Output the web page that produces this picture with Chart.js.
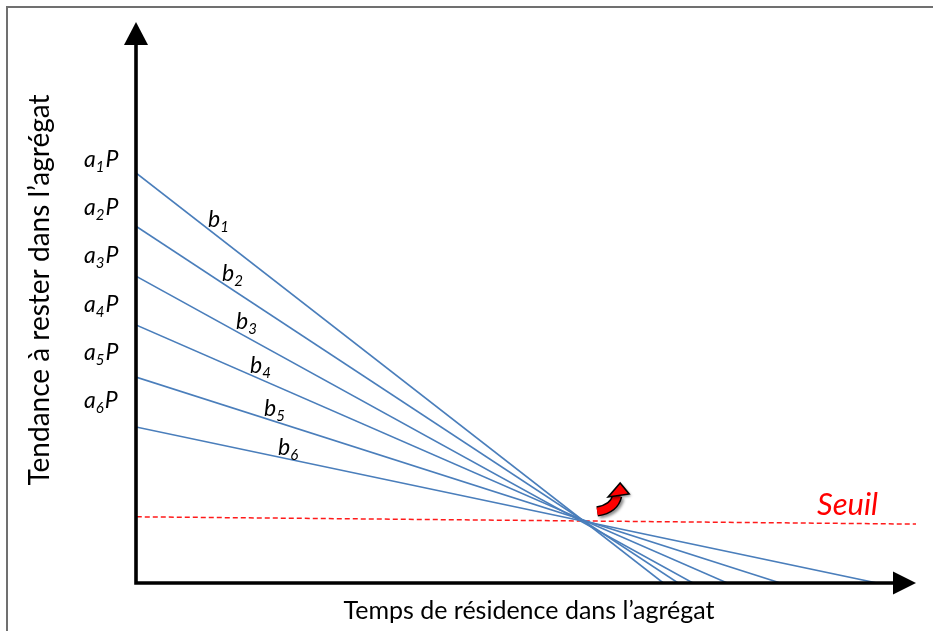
<!DOCTYPE html>
<html lang="fr">
<head>
    <meta charset="UTF-8">
    <title>Tendance à rester dans l'agrégat</title>
    <script src="https://cdn.jsdelivr.net/npm/chart.js"></script>
    <style>
        body { margin: 0; background: #fff; }
        #wrap { width: 933px; height: 631px; position: relative; }
    </style>
</head>
<body>
<div id="wrap"><canvas id="chart"></canvas></div>
<script>
    // y-intercepts (a_i P) and x-intercepts of the six lines, arbitrary units 0..10
    const lineNames = ['b1', 'b2', 'b3', 'b4', 'b5', 'b6'];
    const startValues = [7.31, 6.36, 5.47, 4.60, 3.67, 2.78];
    const endValues = [6.76, 6.95, 7.14, 7.58, 8.26, 9.50];
    const seuilX = [0.01, 10.0];
    const seuilY = [1.18, 1.05];
    const crossPoint = [5.72, 1.16];

    const FONT = 'Lato, "Open Sans", sans-serif';
    const BLUE = '#4a7ebb';

    const datasets = lineNames.map((n, i) => ({
        label: n,
        data: [{x: 0, y: startValues[i]}, {x: endValues[i], y: 0}],
        borderColor: BLUE,
        borderWidth: 1.6,
        pointRadius: 0
    }));
    datasets.push({
        label: 'Seuil',
        data: seuilX.map((x, i) => ({x: x, y: seuilY[i]})),
        borderColor: '#ff1a1a',
        borderWidth: 1.5,
        borderDash: [5, 3],
        pointRadius: 0,
        clip: false
    });

    function subText(ctx, base, sub, tail, x, y, size) {
        ctx.font = 'italic ' + size + 'px ' + FONT;
        ctx.fillText(base, x, y);
        x += ctx.measureText(base).width;
        ctx.font = 'italic ' + Math.round(size * 0.65) + 'px ' + FONT;
        ctx.fillText(sub, x, y + size * 0.22);
        x += ctx.measureText(sub).width + 1;
        if (tail) {
            ctx.font = 'italic ' + size + 'px ' + FONT;
            ctx.fillText(tail, x, y);
        }
    }

    const decor = {
        id: 'decor',
        beforeDraw(chart) {
            const ctx = chart.ctx;
            ctx.save();
            ctx.strokeStyle = '#707070';
            ctx.lineWidth = 2;
            ctx.beginPath();
            ctx.moveTo(7, 631);
            ctx.lineTo(7, 7);
            ctx.lineTo(933, 7);
            ctx.stroke();
            ctx.restore();
        },
        afterDatasetsDraw(chart) {
            const ctx = chart.ctx;
            const xs = chart.scales.x, ys = chart.scales.y;
            const x0 = xs.getPixelForValue(0), y0 = ys.getPixelForValue(0);
            const xMax = xs.right, yMax = ys.top;
            ctx.save();

            // axes with arrow heads
            ctx.strokeStyle = '#000';
            ctx.fillStyle = '#000';
            ctx.lineWidth = 3.6;
            ctx.beginPath();
            ctx.moveTo(x0, y0 + 1.8);
            ctx.lineTo(x0, yMax + 20);
            ctx.moveTo(x0 - 1.8, y0);
            ctx.lineTo(xMax - 20, y0);
            ctx.stroke();
            ctx.beginPath();
            ctx.moveTo(x0, yMax);
            ctx.lineTo(x0 - 12, yMax + 23);
            ctx.lineTo(x0 + 12, yMax + 23);
            ctx.closePath();
            ctx.fill();
            ctx.beginPath();
            ctx.moveTo(xMax, y0);
            ctx.lineTo(xMax - 23, y0 - 11.5);
            ctx.lineTo(xMax - 23, y0 + 11.5);
            ctx.closePath();
            ctx.fill();

            // a_i P labels
            ctx.fillStyle = '#000';
            ctx.textBaseline = 'alphabetic';
            ctx.textAlign = 'left';
            startValues.forEach((v, i) => {
                subText(ctx, 'a', String(i + 1), 'P', 84, 167 + i * 48.2, 23);
            });

            // b_i labels, sitting on their lines
            lineNames.forEach((n, i) => {
                const px = 208 + 14 * i;
                const xv = xs.getValueForPixel(px + 6);
                const yv = startValues[i] * (1 - xv / endValues[i]);
                const py = ys.getPixelForValue(yv) - (7 - i * 0.8);
                subText(ctx, 'b', String(i + 1), '', px, py, 23);
            });

            // Seuil label
            ctx.fillStyle = '#ff0000';
            ctx.font = 'italic 31px ' + FONT;
            ctx.fillText('Seuil', 817, 515);

            // curved red arrow near the crossing point
            const cx = xs.getPixelForValue(crossPoint[0]);
            const cy = ys.getPixelForValue(crossPoint[1]);
            ctx.save();
            ctx.translate(cx, cy);
            ctx.shadowColor = 'rgba(0,0,0,0.45)';
            ctx.shadowBlur = 3;
            ctx.shadowOffsetX = 2;
            ctx.shadowOffsetY = 2;
            ctx.lineCap = 'butt';
            ctx.beginPath();
            ctx.moveTo(15, -6.5);
            ctx.quadraticCurveTo(32, -9, 35, -22);
            ctx.strokeStyle = '#000';
            ctx.lineWidth = 10.5;
            ctx.stroke();
            ctx.shadowColor = 'transparent';
            ctx.strokeStyle = '#ff0000';
            ctx.lineWidth = 7.5;
            ctx.stroke();
            ctx.shadowColor = 'rgba(0,0,0,0.45)';
            ctx.beginPath();
            ctx.moveTo(38, -35);
            ctx.lineTo(47, -24);
            ctx.lineTo(26, -21);
            ctx.closePath();
            ctx.fillStyle = '#ff0000';
            ctx.fill();
            ctx.shadowColor = 'transparent';
            ctx.strokeStyle = '#000';
            ctx.lineWidth = 1.6;
            ctx.stroke();
            ctx.restore();

            // axis titles
            ctx.fillStyle = '#000';
            ctx.font = '25px ' + FONT;
            ctx.textAlign = 'center';
            ctx.textBaseline = 'middle';
            ctx.fillText('Temps de résidence dans l\u2019agrégat', 529, 611);
            ctx.translate(40, 290);
            ctx.rotate(-Math.PI / 2);
            ctx.font = '28px ' + FONT;
            ctx.fillText('Tendance à rester dans l\u2019agrégat', 0, 0);
            ctx.restore();
        }
    };

    new Chart(document.getElementById('chart'), {
        type: 'line',
        data: { datasets: datasets },
        options: {
            responsive: true,
            maintainAspectRatio: false,
            animation: false,
            layout: { padding: { left: 136, right: 17, top: 22, bottom: 48 } },
            scales: {
                x: { type: 'linear', min: 0, max: 10, display: false },
                y: { type: 'linear', min: 0, max: 10, display: false }
            },
            plugins: {
                legend: { display: false },
                tooltip: { enabled: false }
            }
        },
        plugins: [decor]
    });
</script>
</body>
</html>
